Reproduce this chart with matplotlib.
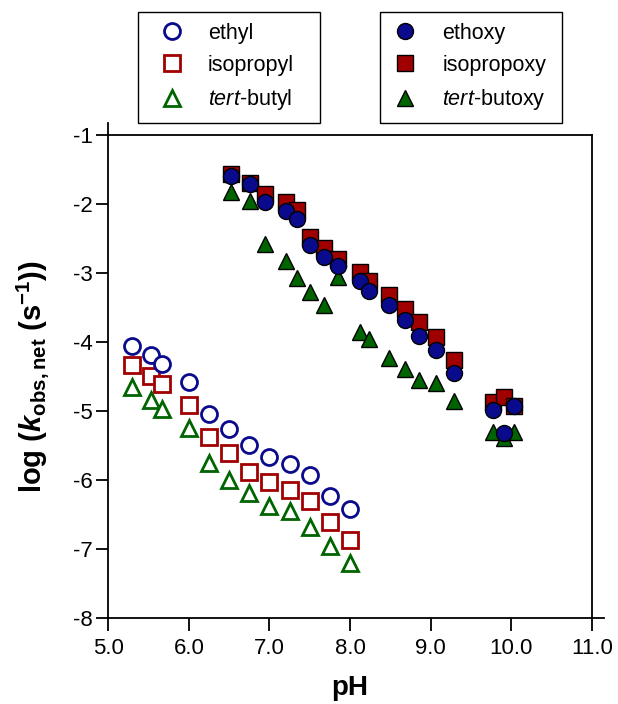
import matplotlib
matplotlib.use("Agg")
import matplotlib.pyplot as plt
from matplotlib.lines import Line2D

plt.rcParams['font.family'] = ['Liberation Sans', 'DejaVu Sans']
plt.rcParams['mathtext.fontset'] = 'custom'
plt.rcParams['mathtext.rm'] = 'Liberation Sans:bold'
plt.rcParams['mathtext.bf'] = 'Liberation Sans:bold:italic'
plt.rcParams['mathtext.it'] = 'Liberation Sans:italic'

# open symbols (alkyl)
ph_alkyl = [5.30, 5.53, 5.67, 6.00, 6.25, 6.50, 6.75, 7.00, 7.25, 7.50, 7.75, 8.00]
ethyl = [-4.06, -4.19, -4.32, -4.58, -5.04, -5.26, -5.49, -5.66, -5.77, -5.93, -6.23, -6.41]
isopropyl = [-4.33, -4.49, -4.61, -4.91, -5.38, -5.61, -5.88, -6.02, -6.14, -6.30, -6.60, -6.86]
tertbutyl = [-4.65, -4.84, -4.97, -5.25, -5.75, -6.00, -6.18, -6.37, -6.44, -6.68, -6.95, -7.20]

# filled symbols (alkoxy)
ph_alkoxy = [6.52, 6.76, 6.94, 7.20, 7.34, 7.50, 7.68, 7.85, 8.12, 8.23, 8.49, 8.68,
             8.86, 9.07, 9.29, 9.77, 9.91, 10.03]
ethoxy = [-1.59, -1.71, -1.97, -2.10, -2.21, -2.60, -2.77, -2.90, -3.11, -3.26, -3.46, -3.68,
          -3.91, -4.11, -4.45, -4.98, -5.32, -4.92]
isopropoxy = [-1.57, -1.70, -1.86, -1.97, -2.09, -2.48, -2.64, -2.79, -2.98, -3.11, -3.32, -3.52,
              -3.71, -3.93, -4.26, -4.87, -4.80, -4.92]
tertbutoxy = [-1.83, -1.95, -2.58, -2.82, -3.07, -3.28, -3.46, -3.05, -3.85, -3.96, -4.23, -4.39,
              -4.55, -4.59, -4.85, -5.30, -5.39, -5.30]

xticks = [5.0, 6.0, 7.0, 8.0, 9.0, 10.0, 11.0]
yticks = [-8, -7, -6, -5, -4, -3, -2, -1]

blue = '#0a0a8c'
red = '#a00000'
green = '#006400'

W, H = 618, 704
fig = plt.figure(figsize=(W / 100, H / 100), dpi=100)
ax = fig.add_axes([108.3 / W, 1 - 618.3 / H, (591.7 - 108.3) / W, (618.3 - 135) / H])

ms = 11.5
# filled
ax.plot(ph_alkoxy, tertbutoxy, '^', ms=ms, mfc=green, mec='black', mew=1.0, ls='none')
ax.plot(ph_alkoxy, isopropoxy, 's', ms=ms, mfc=red, mec='black', mew=1.0, ls='none')
ax.plot(ph_alkoxy, ethoxy, 'o', ms=ms, mfc=blue, mec='black', mew=1.0, ls='none')
# open
ax.plot(ph_alkyl, tertbutyl, '^', ms=ms, mfc='white', mec=green, mew=2.0, ls='none')
ax.plot(ph_alkyl, isopropyl, 's', ms=ms, mfc='white', mec=red, mew=2.0, ls='none')
ax.plot(ph_alkyl, ethyl, 'o', ms=ms, mfc='white', mec=blue, mew=2.0, ls='none')

ax.set_xlim(5.0, 11.0)
ax.set_ylim(-8, -1)
ax.set_xticks(xticks)
ax.set_xticklabels([f"{v:.1f}" for v in xticks])
ax.set_yticks(yticks)
ax.set_yticklabels([str(v) for v in yticks])
ax.tick_params(direction='out', length=9, width=1.3, labelsize=16, top=False, right=False)
ax.tick_params(axis='x', pad=5)
ax.tick_params(axis='y', pad=2)
for s in ax.spines.values():
    s.set_linewidth(1.3)
# axis lines run a little past the frame corners, as in the original
ax.spines['left'].set_bounds(-8, -1 + 0.18)
ax.spines['bottom'].set_bounds(5.0, 11.0 + 0.15)

ax.set_xlabel('pH', fontsize=20, fontweight='bold', labelpad=12)
ax.set_ylabel(r'log ($\mathbf{k}_{\mathrm{obs,net}}$ (s$^{\mathrm{-1}}$))', fontsize=21,
              fontweight='bold', labelpad=16)

h1 = [Line2D([], [], marker='o', ls='none', ms=ms, mfc='white', mec=blue, mew=2.0),
      Line2D([], [], marker='s', ls='none', ms=ms, mfc='white', mec=red, mew=2.0),
      Line2D([], [], marker='^', ls='none', ms=ms, mfc='white', mec=green, mew=2.0)]
h2 = [Line2D([], [], marker='o', ls='none', ms=ms, mfc=blue, mec='black', mew=1.0),
      Line2D([], [], marker='s', ls='none', ms=ms, mfc=red, mec='black', mew=1.0),
      Line2D([], [], marker='^', ls='none', ms=ms, mfc=green, mec='black', mew=1.0)]
l1 = ['ethyl', 'isopropyl', r'$\mathit{tert}$-butyl']
l2 = ['ethoxy', 'isopropoxy', r'$\mathit{tert}$-butoxy']

fs = 15.5
common = dict(fontsize=fs, frameon=True, fancybox=False, edgecolor='black', framealpha=1,
              labelspacing=0.52, borderpad=0.5, borderaxespad=0, mode='expand',
              loc='upper left', bbox_transform=fig.transFigure)
leg1 = fig.legend(h1, l1, bbox_to_anchor=(138 / W, 1 - 12 / H, 182 / W, 0.0),
                  handlelength=2.16, handletextpad=0.59, **common)
leg2 = fig.legend(h2, l2, bbox_to_anchor=(380 / W, 1 - 12 / H, 182 / W, 0.0),
                  handlelength=1.33, handletextpad=1.06, **common)
for lg in (leg1, leg2):
    lg.get_frame().set_linewidth(1.0)

fig.savefig('out.png', dpi=100)
